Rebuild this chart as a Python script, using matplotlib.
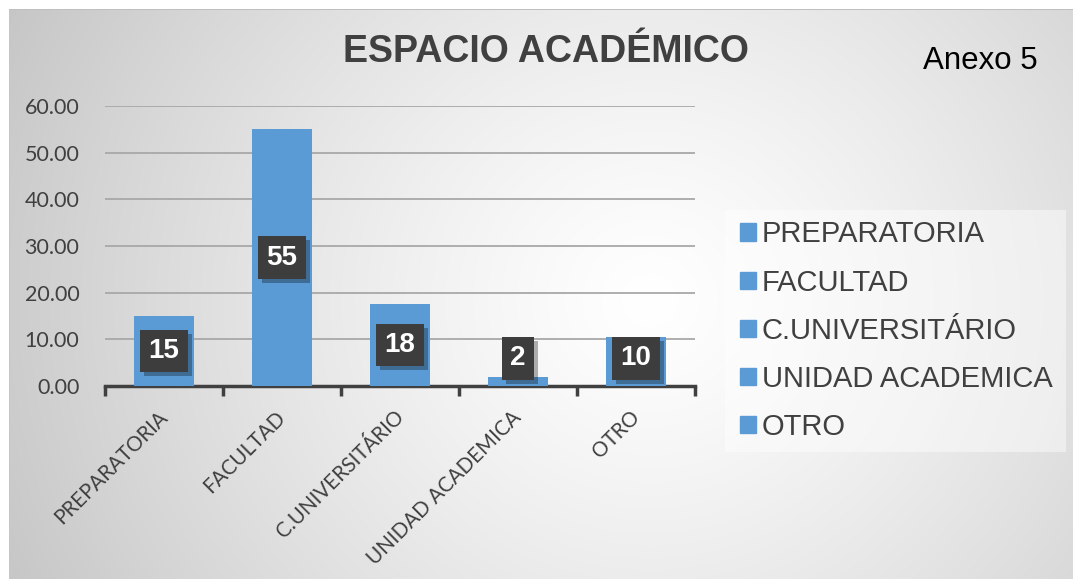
import numpy as np
import matplotlib
matplotlib.use("Agg")
import matplotlib.pyplot as plt
from matplotlib.patches import Rectangle
import matplotlib.patheffects as pe

categories = ["PREPARATORIA", "FACULTAD", "C.UNIVERSITÁRIO", "UNIDAD ACADEMICA", "OTRO"]
values = [15, 55, 17.6, 2, 10.4]
yticks = [0, 10, 20, 30, 40, 50, 60]
title = "ESPACIO ACADÉMICO"
annex = "Anexo 5"

W, H, DPI = 1073, 579, 100
BLUE = "#5B9BD5"
DARK = "#404040"

fig = plt.figure(figsize=(W / DPI, H / DPI), dpi=DPI)
fig.patch.set_facecolor("white")

# background radial gradient panel
bg = fig.add_axes([0, 0, 1, 1], zorder=0)
bg.set_axis_off()
yy, xx = np.mgrid[0:H, 0:W]
d = np.sqrt(((xx - 650) / 1.0) ** 2 + ((yy - 300) / 0.95) ** 2)
g = 1 - 0.22 * np.clip(d / 704, 0, 1.2) ** 1.25
img = np.dstack([g, g, g])
img[:9, :, :] = 1.0
img[:, :9, :] = 1.0
img[9, 9:, :] = 0.75
img[9:, 9, :] = 0.78
bg.imshow(img, extent=[0, W, H, 0], aspect="auto", interpolation="bilinear")
bg.set_xlim(0, W)
bg.set_ylim(H, 0)

ax = fig.add_axes([105 / W, 1 - 386 / H, (695 - 105) / W, (386 - 106) / H], zorder=1)
ax.patch.set_alpha(0)
x = np.arange(len(categories))
ax.bar(x, values, width=0.51, color=BLUE, zorder=3)
ax.set_xlim(-0.5, len(categories) - 0.5)
ax.set_ylim(0, 60)
ax.set_yticks(yticks)
ax.set_yticklabels([f"{v:.2f}" for v in yticks], fontfamily="Lato", fontsize=15.5, color=DARK)
ax.yaxis.grid(True, color="#a8a8a8", linewidth=1.3, zorder=0)
ax.set_axisbelow(True)
for s in ["top", "right", "left"]:
    ax.spines[s].set_visible(False)
ax.spines["bottom"].set_color(DARK)
ax.spines["bottom"].set_linewidth(2.5)
ax.tick_params(axis="y", length=0, pad=18.5)
ax.set_xticks(np.arange(-0.5, len(categories), 1.0), minor=False)
ax.set_xticklabels([])
ax.tick_params(axis="x", which="major", length=7, width=2.5, color=DARK, direction="out")
for i, c in enumerate(categories):
    ax.text(i - 0.055, -4.5, c, rotation=45, ha="right", va="top", rotation_mode="anchor",
            fontfamily="Lato", fontsize=14.8, color=DARK)

# data labels
shadow = [pe.SimplePatchShadow(offset=(3, -3), shadow_rgbFace="black", alpha=0.3), pe.Normal()]
for i, v in enumerate(values):
    yl = max(v / 2, 5.9)
    t = ax.text(i, yl, f"{v:.0f}", ha="center", va="center", fontsize=20, fontweight="bold",
                fontfamily="Liberation Sans", color="white",
                bbox=dict(boxstyle="square,pad=0.3", facecolor="#3d3d3d", edgecolor="none"),
                zorder=5)
    t.get_bbox_patch().set_path_effects(shadow)

# title and annex
fig.text(546 / W, 1 - 52 / H, title, ha="center", va="center", fontsize=27,
         fontweight="bold", fontfamily="Liberation Sans", color=DARK)
fig.text(980 / W, 1 - 61 / H, annex, ha="center", va="center", fontsize=22.5,
         fontfamily="Liberation Sans", color="black")

# legend
leg_ax = fig.add_axes([0, 0, 1, 1], zorder=2)
leg_ax.set_axis_off()
leg_ax.set_xlim(0, W)
leg_ax.set_ylim(H, 0)
leg_ax.add_patch(Rectangle((725, 210), 341, 242, facecolor="white", alpha=0.45, edgecolor="none"))
handles = [Rectangle((0, 0), 1, 1, color=BLUE) for _ in categories]
leg = fig.legend(handles, categories, loc="upper left", bbox_to_anchor=(720 / W, 1 - 200 / H),
                 frameon=False, handlelength=0.53, handleheight=0.53,
                 handletextpad=0.2, labelspacing=0.69, borderpad=0.2,
                 prop={"family": "Liberation Sans", "size": 21})
for t in leg.get_texts():
    t.set_color(DARK)

fig.savefig("out.png", dpi=DPI)
